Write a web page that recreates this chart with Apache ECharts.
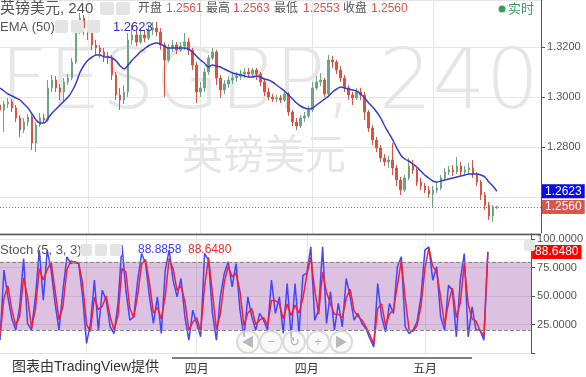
<!DOCTYPE html>
<html><head><meta charset="utf-8">
<script src="https://cdn.jsdelivr.net/npm/echarts@6/dist/echarts.min.js"></script>
<style>html,body{margin:0;padding:0;background:#fff;}#c{width:586px;height:377px;}</style>
</head><body><div id="c"></div>
<script>
// ---- data ----
const slotCount = 136;
const monthTickIndex = [22, 50, 78, 108];
const monthTickLabel = ['', '四月', '四月', '五月'];

const openPrices = [
1.2968,1.2948,1.2972,1.2980,1.2956,1.2916,1.2868,1.2900,1.2920,1.2816,
1.2888,1.2916,1.2908,1.3036,1.3068,1.3036,1.3020,1.3060,1.3076,1.3140,
1.3268,1.3316,1.3276,1.3260,1.3208,1.3196,1.3180,1.3164,1.3156,1.3088,
1.3008,1.2988,1.3020,1.3228,1.3248,1.3220,1.3248,1.3236,1.3268,1.3276,
1.3260,1.3208,1.3148,1.3196,1.3208,1.3188,1.3204,1.3220,1.3188,1.3128,
1.3020,1.3036,1.3100,1.3156,1.3180,1.3076,1.3028,1.3052,1.3068,1.3076,
1.3084,1.3092,1.3100,1.3092,1.3108,1.3092,1.3060,1.3020,1.3000,1.2992,
1.2996,1.2988,1.3012,1.2940,1.2900,1.2884,1.2916,1.2924,1.2948,1.3036,
1.3060,1.3068,1.3012,1.3148,1.3140,1.3108,1.3076,1.3036,1.3008,1.2996,
1.3020,1.3008,1.2940,1.2876,1.2828,1.2796,1.2756,1.2740,1.2748,1.2716,
1.2668,1.2628,1.2676,1.2724,1.2708,1.2660,1.2644,1.2628,1.2612,1.2628,
1.2636,1.2676,1.2700,1.2708,1.2700,1.2724,1.2700,1.2708,1.2716,1.2692,
1.2660,1.2608,1.2568,1.2524,1.2561];
const closePrices = [
1.2948,1.2972,1.2980,1.2956,1.2916,1.2868,1.2900,1.2920,1.2816,1.2888,
1.2916,1.2908,1.3036,1.3068,1.3036,1.3020,1.3060,1.3076,1.3140,1.3268,
1.3316,1.3276,1.3260,1.3208,1.3196,1.3180,1.3164,1.3156,1.3088,1.3008,
1.2988,1.3020,1.3228,1.3248,1.3220,1.3248,1.3236,1.3268,1.3276,1.3260,
1.3208,1.3148,1.3196,1.3208,1.3188,1.3204,1.3220,1.3188,1.3128,1.3020,
1.3036,1.3100,1.3156,1.3180,1.3076,1.3028,1.3052,1.3068,1.3076,1.3084,
1.3092,1.3100,1.3092,1.3108,1.3092,1.3060,1.3020,1.3000,1.2992,1.2996,
1.2988,1.3012,1.2940,1.2900,1.2884,1.2916,1.2924,1.2948,1.3036,1.3060,
1.3068,1.3012,1.3148,1.3140,1.3108,1.3076,1.3036,1.3008,1.2996,1.3020,
1.3008,1.2940,1.2876,1.2828,1.2796,1.2756,1.2740,1.2748,1.2716,1.2668,
1.2628,1.2676,1.2724,1.2708,1.2660,1.2644,1.2628,1.2612,1.2628,1.2636,
1.2676,1.2700,1.2708,1.2700,1.2724,1.2700,1.2708,1.2716,1.2692,1.2660,
1.2608,1.2568,1.2524,1.2560,1.2560];
const lowPrices = [
1.2932,1.2860,1.2956,1.2940,1.2900,1.2840,1.2856,1.2884,1.2788,1.2780,
1.2880,1.2896,1.2900,1.3020,1.3020,1.2988,1.2980,1.3048,1.3068,1.3132,
1.3252,1.3248,1.3228,1.3188,1.3168,1.3156,1.3140,1.3132,1.3068,1.2988,
1.2948,1.2972,1.3000,1.3208,1.3204,1.3212,1.3220,1.3228,1.3248,1.3244,
1.3188,1.3000,1.3140,1.3180,1.3172,1.3180,1.3188,1.3168,1.3108,1.2976,
1.3000,1.3020,1.3088,1.3148,1.3048,1.2996,1.3012,1.3036,1.3052,1.3060,
1.3068,1.3076,1.3076,1.3080,1.3068,1.3044,1.3004,1.2988,1.2980,1.2980,
1.2976,1.2980,1.2924,1.2884,1.2868,1.2876,1.2900,1.2916,1.2940,1.3028,
1.3044,1.3000,1.3000,1.3116,1.3092,1.3060,1.3020,1.2988,1.2968,1.2988,
1.2988,1.2908,1.2860,1.2808,1.2780,1.2740,1.2724,1.2716,1.2688,1.2644,
1.2608,1.2620,1.2668,1.2692,1.2644,1.2628,1.2616,1.2596,1.2556,1.2616,
1.2628,1.2668,1.2688,1.2684,1.2692,1.2684,1.2688,1.2692,1.2676,1.2644,
1.2588,1.2548,1.2508,1.2500,1.2553];
const highPrices = [
1.2988,1.2984,1.2996,1.2992,1.2968,1.2928,1.2916,1.2932,1.2928,1.2900,
1.2936,1.2932,1.3068,1.3088,1.3084,1.3052,1.3076,1.3092,1.3156,1.3284,
1.3336,1.3328,1.3300,1.3268,1.3228,1.3208,1.3196,1.3180,1.3168,1.3100,
1.3036,1.3048,1.3256,1.3288,1.3268,1.3276,1.3268,1.3288,1.3300,1.3300,
1.3276,1.3220,1.3212,1.3228,1.3220,1.3220,1.3256,1.3236,1.3196,1.3140,
1.3060,1.3116,1.3168,1.3196,1.3188,1.3088,1.3068,1.3084,1.3092,1.3100,
1.3108,1.3116,1.3116,1.3116,1.3116,1.3100,1.3068,1.3036,1.3012,1.3008,
1.3008,1.3020,1.3020,1.2948,1.2916,1.2928,1.2940,1.2964,1.3060,1.3084,
1.3096,1.3076,1.3168,1.3164,1.3148,1.3124,1.3088,1.3048,1.3020,1.3036,
1.3036,1.3020,1.2948,1.2888,1.2840,1.2808,1.2772,1.2764,1.2816,1.2728,
1.2680,1.2688,1.2756,1.2748,1.2716,1.2676,1.2656,1.2644,1.2644,1.2660,
1.2688,1.2716,1.2724,1.2728,1.2760,1.2740,1.2724,1.2736,1.2748,1.2700,
1.2668,1.2620,1.2580,1.2568,1.2563];
const ema50 = [
1.3036,1.3024,1.3012,1.3004,1.2996,1.2988,1.2972,1.2956,1.2932,1.2908,
1.2896,1.2896,1.2916,1.2936,1.2952,1.2968,1.2984,1.3000,1.3024,1.3056,
1.3100,1.3128,1.3148,1.3160,1.3168,1.3168,1.3160,1.3160,1.3156,1.3144,
1.3124,1.3112,1.3128,1.3148,1.3164,1.3180,1.3192,1.3204,1.3212,1.3216,
1.3212,1.3204,1.3196,1.3196,1.3196,1.3196,1.3196,1.3192,1.3180,1.3164,
1.3148,1.3136,1.3120,1.3128,1.3124,1.3120,1.3112,1.3104,1.3096,1.3092,
1.3088,1.3084,1.3080,1.3080,1.3084,1.3080,1.3072,1.3068,1.3060,1.3048,
1.3036,1.3024,1.3008,1.2992,1.2976,1.2964,1.2956,1.2952,1.2956,1.2968,
1.2980,1.2992,1.3004,1.3020,1.3032,1.3040,1.3036,1.3032,1.3028,1.3024,
1.3012,1.2996,1.2976,1.2960,1.2940,1.2916,1.2884,1.2856,1.2828,1.2796,
1.2768,1.2752,1.2744,1.2732,1.2720,1.2704,1.2688,1.2676,1.2664,1.2660,
1.2664,1.2668,1.2672,1.2676,1.2680,1.2684,1.2688,1.2692,1.2692,1.2692,
1.2688,1.2680,1.2660,1.2644,1.2623];
const stochK = [
11.3,72.7,49.3,30.3,20.1,40.5,82.9,25.9,20.1,49.3,
90.2,46.4,90.2,72.7,43.5,20.1,55.1,84.4,78.5,80.0,
78.5,49.3,8.4,25.9,63.9,20.1,55.1,46.4,23.0,17.1,
43.5,94.6,55.1,28.8,31.8,63.9,87.3,78.5,49.3,25.9,
49.3,17.1,72.7,90.2,63.9,49.3,65.4,31.8,11.3,37.6,
25.9,14.2,87.3,81.5,34.7,11.3,49.3,69.8,80.0,58.1,
78.5,37.6,14.2,49.3,31.8,20.1,34.7,28.8,20.1,63.9,
34.7,49.3,17.1,61.0,14.2,61.0,17.1,68.3,69.8,93.2,
28.8,37.6,93.2,25.9,53.7,20.1,43.5,23.0,65.4,49.3,
28.8,34.7,25.9,21.5,12.7,5.4,61.0,31.8,18.6,43.5,
34.7,75.6,84.4,23.0,17.1,20.1,27.4,49.3,90.2,93.2,
63.9,75.6,31.8,20.1,59.5,55.1,14.2,63.9,87.3,14.2,
40.5,20.1,20.1,11.3,88.8858];
const stochD = [
15,48,59,38,24,32,66,49,22,38,
74,64,73,80,55,29,41,73,81,79,
79,61,25,19,49,38,41,50,32,20,
33,74,71,39,31,51,78,82,61,35,
40,30,50,83,74,55,59,45,20,27,
31,19,58,84,53,21,34,62,76,67,
70,54,24,35,39,25,29,31,24,46,
46,43,30,43,33,42,35,48,69,84,
55,34,71,53,43,34,34,31,48,56,
37,32,29,23,16,8,39,43,24,34,
38,59,81,48,20,19,24,41,74,92,
76,71,49,25,44,57,31,44,78,43,
30,28,20,15,88.6480];

const lastClose = 1.2560, lastEma = 1.2623, lastD = 88.6480;
const priceMin = 1.2456, priceMax = 1.3388;
const stochMax = 104.4;

// ---- build ----
const categories = Array.from({length: slotCount}, (_, i) => 'b' + i);
const isMonthTick = (idx) => monthTickIndex.indexOf(idx) >= 0;
const monthLabelFor = (idx) => { const k = monthTickIndex.indexOf(idx); return k >= 0 ? monthTickLabel[k] : ''; };
const candleData = openPrices.map((o, i) => [o, closePrices[i], lowPrices[i], highPrices[i]]);
// axis labels sitting under a price tag are hidden, as in the original
const underTag = (v) => Math.abs(v - lastClose) < 0.004 || Math.abs(v - lastEma) < 0.004;

const FONT = "'Liberation Sans','Noto Sans CJK SC',sans-serif";
const AXFONT = "'Liberation Sans',sans-serif";
const ui = [];
function txt(x, y, s, size, color, z, fontOverride) {
  ui.push({type:'text', x:x, y:y, z: (z === undefined ? 100 : z), silent:true,
    style:{text:s, font: fontOverride || (size + 'px ' + FONT), fill:color, verticalAlign:'middle', align:'left'}});
}
function box(x, y, w, h, color) {
  ui.push({type:'rect', z:100, silent:true, shape:{x:x, y:y, width:w, height:h, r:2}, style:{fill:color}});
}
// watermarks
txt(0, 86, 'FESGBP, 240', 84, '#e6e6e6', 0, "300 84px 'DejaVu Sans',sans-serif");
txt(182, 158, '英镑美元', 41, '#e6e6e6', 0);
// header
txt(0, 9, '英镑美元, 240', 15, '#555');
box(100, 2, 14, 13, '#e4e4e4'); box(116, 2, 14, 13, '#e4e4e4');
const ohlcLabels = [['开盘',138,'1.2561',166],['最高',206,'1.2563',233],['最低',274,'1.2553',303],['收盘',343,'1.2560',371]];
ohlcLabels.forEach(r => { txt(r[1], 9, r[0], 12, '#555'); txt(r[3], 9, r[2], 12, '#d9574a'); });
ui.push({type:'circle', z:100, silent:true, shape:{cx:502, cy:9, r:3.5}, style:{fill:'#3a9a5e'}});
txt(508, 9, '实时', 13, '#3a9a5e');
txt(0, 27, 'EMA (50)', 13, '#555');
box(55, 20, 13, 13, '#e4e4e4'); box(71, 20, 13, 13, '#e4e4e4'); box(87, 20, 13, 13, '#e4e4e4');
txt(113, 27, lastEma.toFixed(4), 13, '#3232c8');
txt(0, 250, 'Stoch (5, 3, 3)', 13, '#555');
box(80, 244, 12, 12, '#e4e4e4'); box(95, 244, 12, 12, '#e4e4e4'); box(110, 244, 12, 12, '#e4e4e4');
txt(138, 250, stochK[stochK.length - 1].toFixed(4), 12, '#3b3bff');
txt(188, 250, lastD.toFixed(4), 12, '#ee2b2b');
txt(12, 367, '图表由TradingView提供', 14, '#333');
// separators
ui.push({type:'line', z:100, silent:true, shape:{x1:0, y1:234.5, x2:541, y2:234.5}, style:{stroke:'#555', lineWidth:1.5}});
ui.push({type:'line', z:100, silent:true, shape:{x1:172, y1:358, x2:472, y2:358}, style:{stroke:'#555', lineWidth:1.5}});
box(524, 240, 11, 11, '#e6e6e6');
// nav buttons
[['◀',248],['−',271],['↻',294],['+',318],['▶',341]].forEach(b => {
  ui.push({type:'circle', z:101, silent:true, shape:{cx:b[1], cy:342, r:11}, style:{fill:'rgba(245,245,245,0.6)', stroke:'rgba(215,215,215,0.9)', lineWidth:2}});
  ui.push({type:'text', z:102, silent:true, x:b[1], y:342, style:{text:b[0], font:'13px ' + FONT, fill:'#b8b8b8', align:'center', verticalAlign:'middle'}});
});

const clear = 'rgba(0,0,0,0)';
const priceTag = (text, bg) => ({show:true, position:'end', distance:1, formatter:text, backgroundColor:bg, color:'#fff',
  padding:[1,3,1,3], lineHeight:12, fontSize:12, fontFamily:AXFONT});
const splitX = {show:true, interval:(i) => isMonthTick(i), lineStyle:{color:'#e6e6e6', width:1}};
const option = {
  animation:false,
  backgroundColor:'#fff',
  grid:[{left:0, right:45, top:0, height:233}, {left:0, right:45, top:234, height:119}],
  xAxis:[
    {type:'category', gridIndex:0, data:categories, boundaryGap:false, axisLine:{show:false}, axisTick:{show:false}, axisLabel:{show:false}, splitLine:splitX},
    {type:'category', gridIndex:1, data:categories, boundaryGap:false, axisLine:{show:true, lineStyle:{color:'#e2e2e2'}}, axisTick:{show:false},
     axisLabel:{show:true, interval:(i) => isMonthTick(i), formatter:(v, i) => monthLabelFor(i), color:'#333', fontSize:12, margin:11, fontFamily:FONT},
     splitLine:splitX}
  ],
  yAxis:[
    {type:'value', gridIndex:0, position:'right', min:priceMin, max:priceMax, splitNumber:5,
     axisLine:{show:true, lineStyle:{color:'#555'}}, axisTick:{show:true, length:4, lineStyle:{color:'#555'}},
     axisLabel:{color:'#555', fontSize:11, margin:6, fontFamily:AXFONT, showMinLabel:false, showMaxLabel:false,
       formatter:(v) => (Math.abs(v * 50 - Math.round(v * 50)) < 1e-6 && !underTag(v)) ? v.toFixed(4) : ''},
     splitLine:{show:true, lineStyle:{color:'#e6e6e6'}}},
    {type:'value', gridIndex:1, position:'right', min:0, max:stochMax, interval:25,
     axisLine:{show:true, lineStyle:{color:'#555'}}, axisTick:{show:true, length:4, lineStyle:{color:'#555'}},
     axisLabel:{color:'#555', fontSize:11, margin:6, fontFamily:AXFONT, showMaxLabel:false,
       formatter:(v) => (v > 0 && Math.abs(v % 25) < 1e-6) ? v.toFixed(4) : ''},
     splitLine:{show:true, lineStyle:{color:'#e6e6e6'}}}
  ],
  graphic:{elements:ui},
  series:[
    {type:'candlestick', xAxisIndex:0, yAxisIndex:0, data:candleData, barWidth:2,
     itemStyle:{color:'#6ba583', color0:'#d75442', borderColor:'#6ba583', borderColor0:'#d75442', borderWidth:1},
     markLine:{silent:true, symbol:'none', animation:false, precision:4,
       data:[
         {yAxis:lastClose, lineStyle:{color:'#d75442', type:[1,2], width:1}, label:priceTag(lastClose.toFixed(4), '#d9574a')},
         {yAxis:lastEma, lineStyle:{color:clear, width:1}, label:priceTag(lastEma.toFixed(4), '#0a0aee')}
       ]}},
    {type:'line', xAxisIndex:0, yAxisIndex:0, data:ema50, showSymbol:false, smooth:0.3,
     lineStyle:{color:'#3838d0', width:1.5}},
    {type:'line', xAxisIndex:1, yAxisIndex:1, data:stochK, showSymbol:false, lineStyle:{color:'#4545ff', width:1.5},
     markArea:{silent:true, itemStyle:{color:'rgba(150,70,160,0.33)'}, data:[[{yAxis:20},{yAxis:80}]]},
     markLine:{silent:true, symbol:'none', animation:false, data:[{yAxis:80},{yAxis:20}], lineStyle:{color:'#888', type:'dashed', width:1}, label:{show:false}}},
    {type:'line', xAxisIndex:1, yAxisIndex:1, data:stochD, showSymbol:false, lineStyle:{color:'#f0203a', width:1.5},
     markLine:{silent:true, symbol:'none', animation:false, precision:4, data:[{yAxis:lastD}], lineStyle:{color:clear, width:1},
       label:priceTag(lastD.toFixed(4), '#ff0000')}}
  ]
};
const chart = echarts.init(document.getElementById('c'), null, {renderer:'canvas'});
chart.setOption(option);
</script></body></html>
